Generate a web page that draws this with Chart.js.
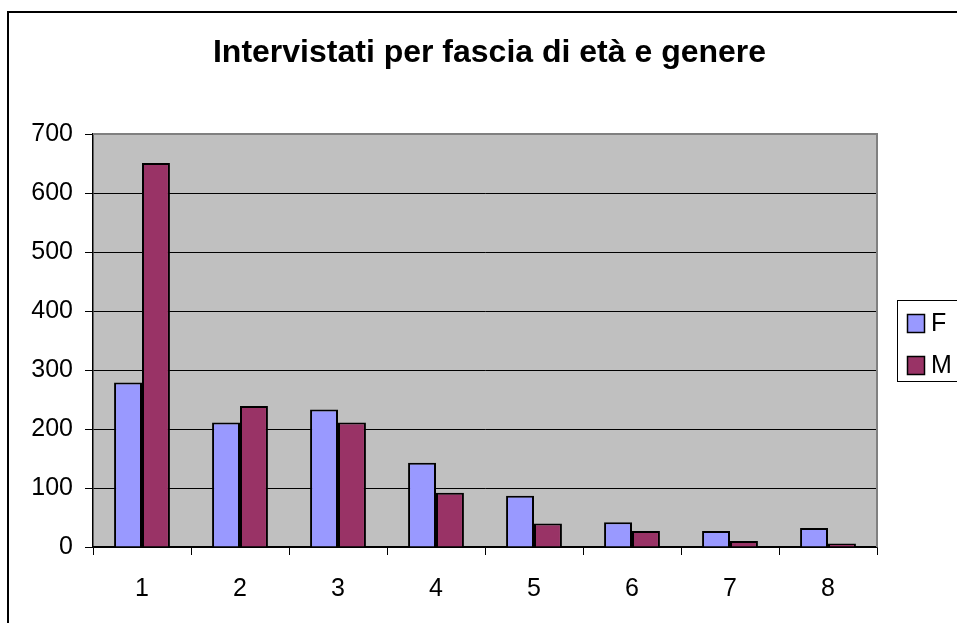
<!DOCTYPE html>
<html>
<head>
<meta charset="utf-8">
<script src="https://cdn.jsdelivr.net/npm/chart.js@4"></script>
<style>
html,body{margin:0;padding:0;background:#fff;}
#wrap{position:relative;width:957px;height:623px;}
</style>
</head>
<body>
<div id="wrap"><canvas id="c" width="957" height="623"></canvas></div>
<script>
const categories = ['1','2','3','4','5','6','7','8'];
const seriesF = [279, 211, 233, 143, 87, 42, 27, 32];
const seriesM = [651, 239, 211, 92, 40, 27, 10, 6];
const seriesNames = ['F', 'M'];
const yTicks = [0, 100, 200, 300, 400, 500, 600, 700];
const titleText = 'Intervistati per fascia di età e genere';
const colors = ['#9999FF', '#993366'];
const FONT = '"Liberation Sans", Arial, sans-serif';

const framePlugin = {
  id: 'frame',
  beforeDraw(chart) {
    const {ctx, chartArea: a} = chart;
    ctx.save();
    ctx.fillStyle = '#fff';
    ctx.fillRect(0, 0, chart.width, chart.height);
    ctx.strokeStyle = '#000';
    ctx.lineWidth = 2;
    ctx.strokeRect(8, 12, 1000, 700);
    ctx.fillStyle = '#C0C0C0';
    ctx.fillRect(a.left, a.top, a.right - a.left, a.bottom - a.top);
    ctx.restore();
  },
  afterDatasetsDraw(chart) {
    const {ctx, chartArea: a} = chart;
    ctx.save();
    ctx.strokeStyle = '#808080';
    ctx.lineWidth = 2;
    ctx.beginPath();
    ctx.moveTo(a.left, a.top);
    ctx.lineTo(a.right, a.top);
    ctx.lineTo(a.right, a.bottom);
    ctx.stroke();
    ctx.fillStyle = '#000';
    ctx.font = 'bold 32px ' + FONT;
    ctx.textAlign = 'center';
    ctx.textBaseline = 'middle';
    ctx.fillText(titleText, 489.5, 53);
    ctx.lineWidth = 1;
    ctx.strokeStyle = '#000';
    ctx.fillStyle = '#fff';
    ctx.fillRect(897, 300, 80, 82);
    ctx.strokeRect(897.5, 300.5, 80, 81);
    ctx.font = '25px ' + FONT;
    ctx.textAlign = 'left';
    const ys = [323, 365];
    ctx.lineWidth = 1.5;
    seriesNames.forEach((n, i) => {
      ctx.fillStyle = colors[i];
      ctx.fillRect(907, ys[i] - 9, 17, 18);
      ctx.strokeRect(907.5, ys[i] - 8.5, 17, 18);
      ctx.fillStyle = '#000';
      ctx.fillText(n, 931, ys[i] + 1);
    });
    ctx.restore();
  }
};

new Chart(document.getElementById('c'), {
  type: 'bar',
  data: {
    labels: categories,
    datasets: [
      {label: seriesNames[0], data: seriesF, backgroundColor: colors[0], borderColor: '#000', borderWidth: 2, categoryPercentage: 0.57, barPercentage: 1.0},
      {label: seriesNames[1], data: seriesM, backgroundColor: colors[1], borderColor: '#000', borderWidth: 2, categoryPercentage: 0.57, barPercentage: 1.0}
    ]
  },
  options: {
    responsive: false,
    animation: false,
    devicePixelRatio: 1,
    layout: {padding: {left: 0, top: 134, right: 80, bottom: 0}},
    plugins: {legend: {display: false}, title: {display: false}, tooltip: {enabled: false}},
    scales: {
      x: {
        afterFit(s) { s.height = 76; },
        grid: {display: true, drawOnChartArea: false, offset: true, tickLength: 8, tickColor: '#000', lineWidth: 1},
        border: {display: true, color: '#000', width: 1.5},
        ticks: {color: '#000', font: {family: FONT, size: 25}, padding: 19, maxRotation: 0}
      },
      y: {
        min: 0, max: 700,
        afterFit(s) { s.width = 93; },
        afterBuildTicks(s) { s.ticks = yTicks.map(v => ({value: v})); },
        grid: {
          color: ctx => (ctx.tick && ctx.tick.value === 700) ? 'rgba(0,0,0,0)' : '#000',
          lineWidth: 1, tickLength: 8, tickColor: '#000'
        },
        border: {display: true, color: '#000', width: 1.5},
        ticks: {color: '#000', font: {family: FONT, size: 25}, padding: 12, stepSize: 100}
      }
    }
  },
  plugins: [framePlugin]
});
</script>
</body>
</html>
